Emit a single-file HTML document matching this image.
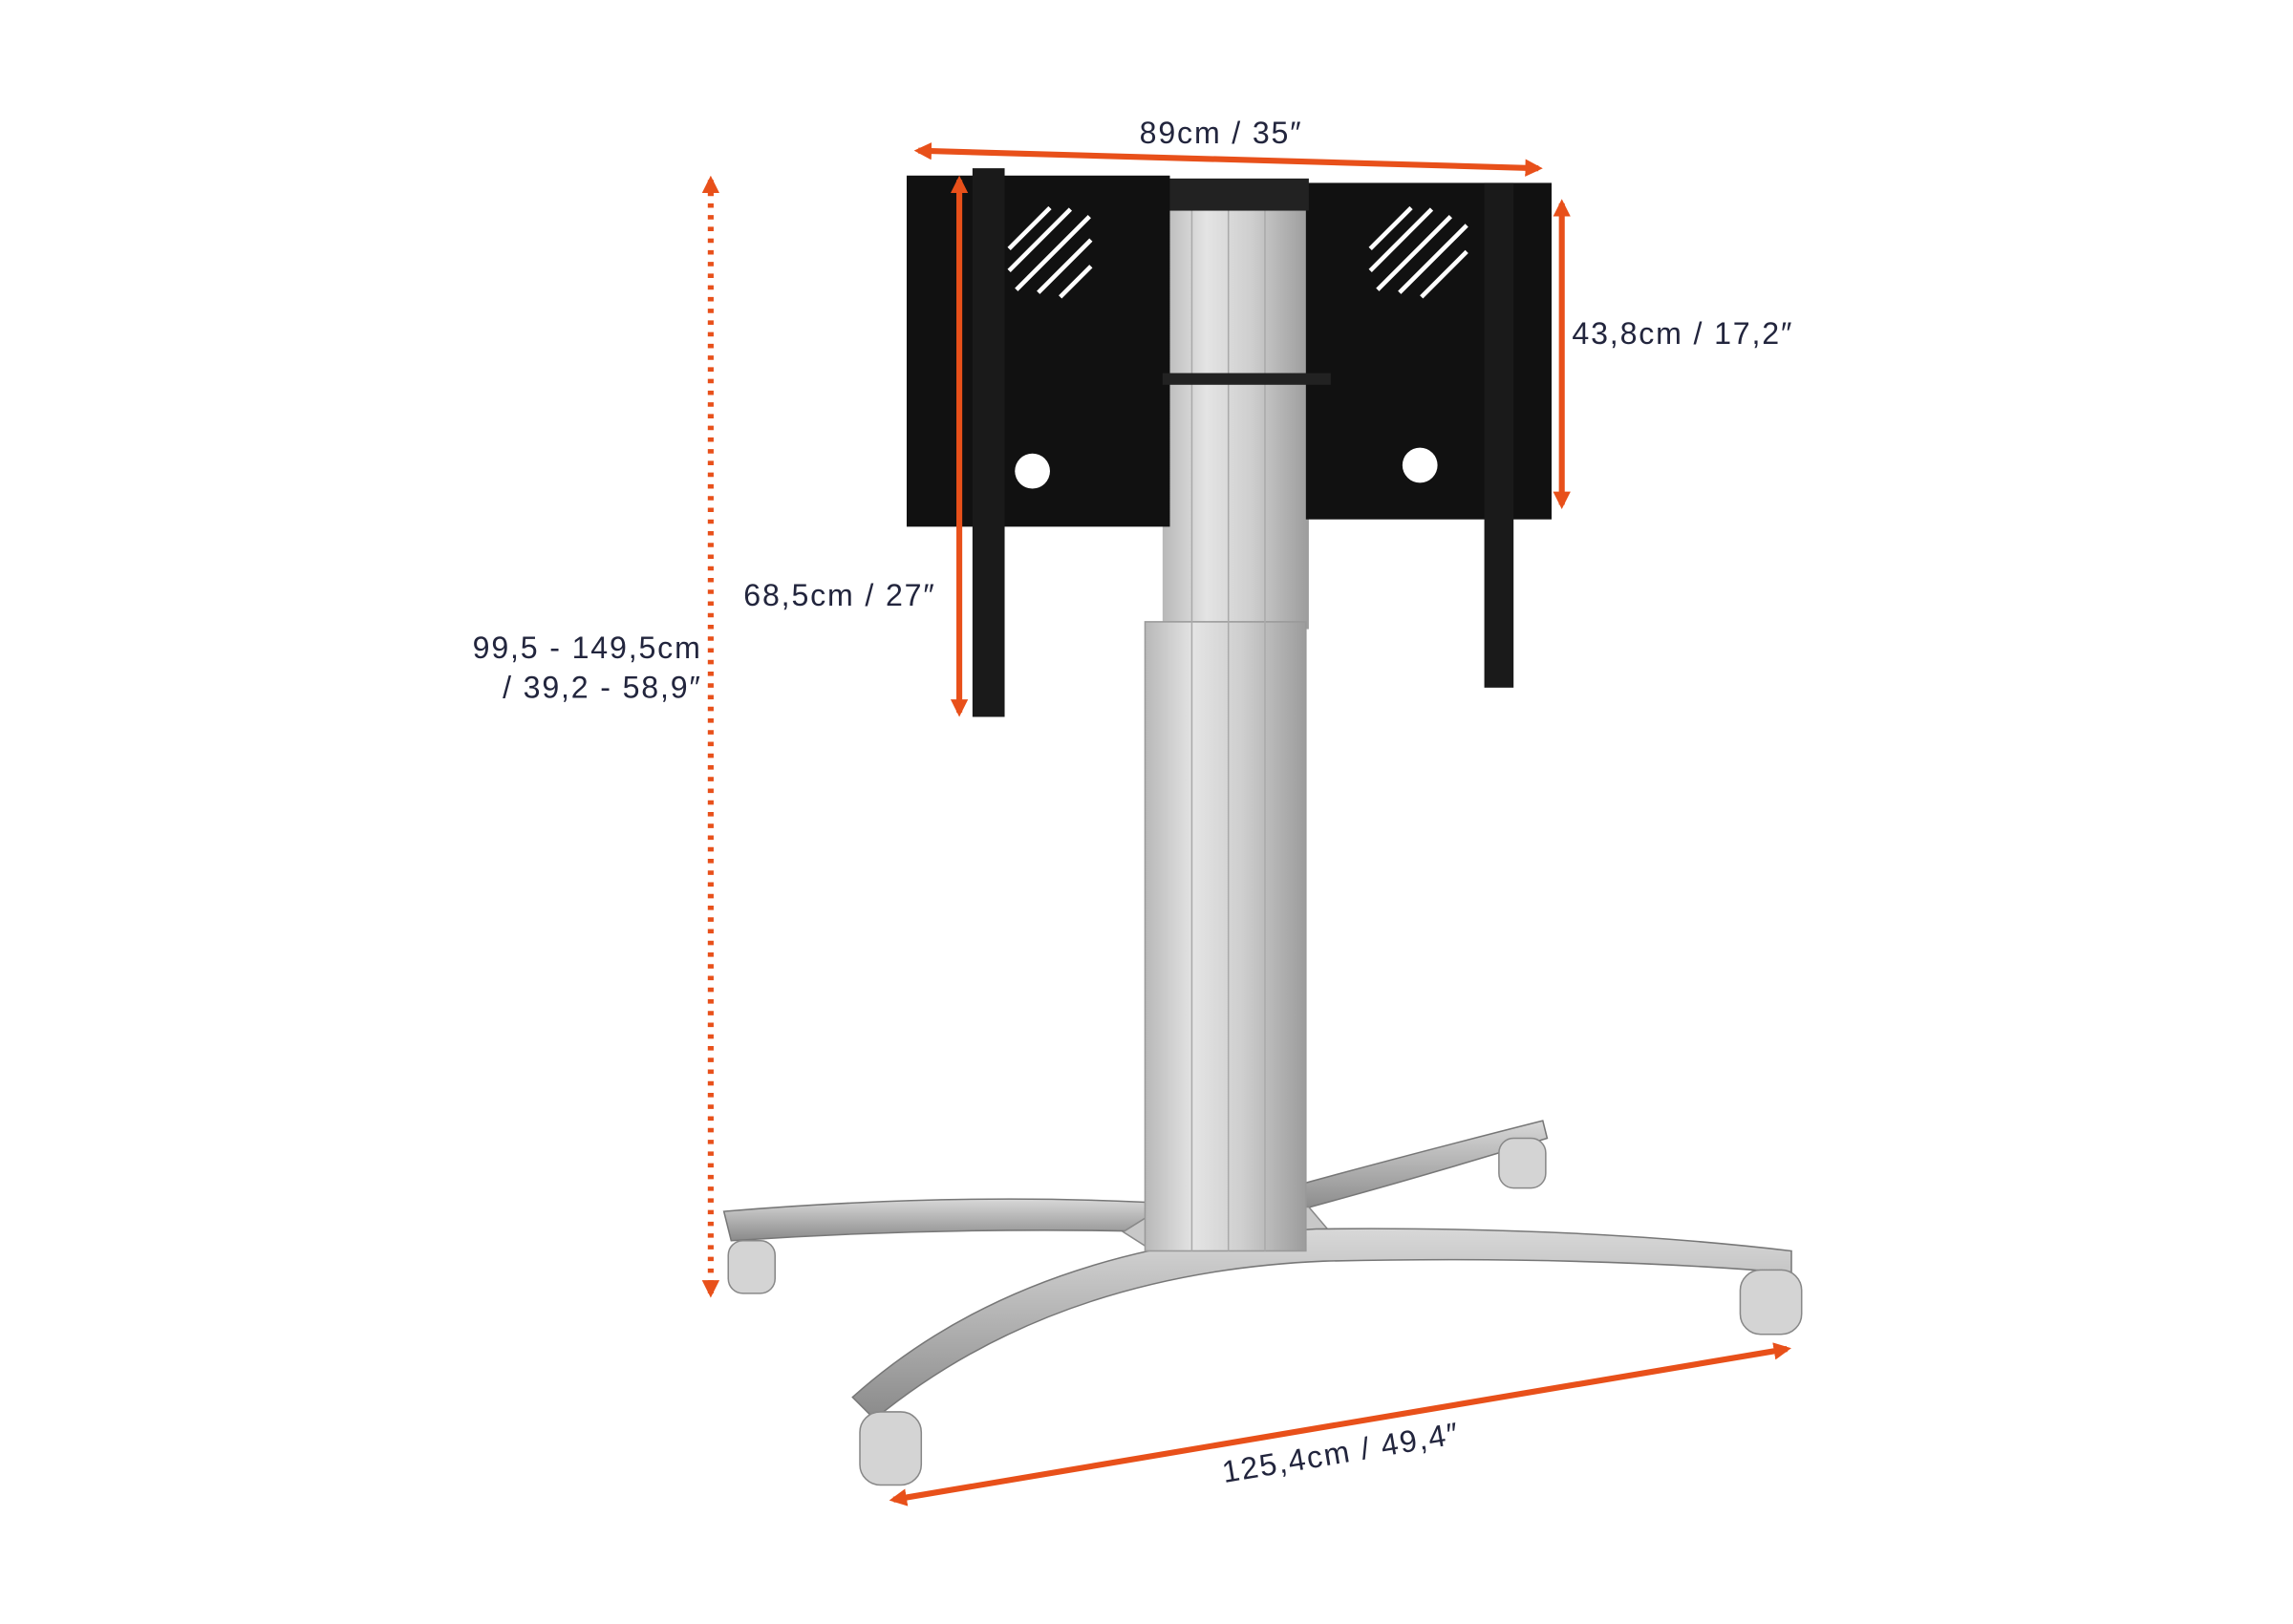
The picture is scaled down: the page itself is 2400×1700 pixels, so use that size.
<!DOCTYPE html>
<html><head><meta charset="utf-8"><style>
html,body{margin:0;padding:0;background:#fff;width:2400px;height:1700px;overflow:hidden}
svg{display:block}
text{font-family:"Liberation Sans",sans-serif;fill:#22253d;font-size:21px;letter-spacing:1.2px}
</style></head><body>
<svg width="2400" height="1700" viewBox="0 0 1568 1110" preserveAspectRatio="none" xmlns="http://www.w3.org/2000/svg">
<defs>
<linearGradient id="col" x1="0" x2="1">
<stop offset="0" stop-color="#b8b8b8"/><stop offset="0.3" stop-color="#e4e4e4"/><stop offset="0.6" stop-color="#cfcfcf"/><stop offset="1" stop-color="#9c9c9c"/>
</linearGradient>
<linearGradient id="bar" x1="0" y1="0" x2="0" y2="1">
<stop offset="0" stop-color="#d8d8d8"/><stop offset="1" stop-color="#8a8a8a"/>
</linearGradient>
<marker id="ah" markerWidth="12" markerHeight="12" refX="9" refY="6" orient="auto" markerUnits="userSpaceOnUse">
<path d="M0,0 L12,6 L0,12 z" fill="#e8501a"/></marker>
<marker id="at" markerWidth="12" markerHeight="12" refX="3" refY="6" orient="auto" markerUnits="userSpaceOnUse">
<path d="M12,0 L0,6 L12,12 z" fill="#e8501a"/></marker>
</defs>

<!-- base -->
<path d="M495,828 Q650,815 790,822 L800,842 Q650,838 500,848 Z" fill="url(#bar)" stroke="#777" stroke-width="1"/>
<path d="M880,812 Q960,790 1055,766 L1058,778 Q970,805 885,828 Z" fill="url(#bar)" stroke="#777"/>
<path d="M768,842 L800,822 L895,825 L912,845 L860,858 L790,856 Z" fill="#c8c8c8" stroke="#888"/>
<path d="M583,955 Q700,850 900,840 Q1080,838 1225,855 L1225,870 Q1080,858 905,862 Q720,870 598,970 Z" fill="url(#bar)" stroke="#777"/>
<g fill="#d4d4d4" stroke="#888">
<rect x="498" y="848" width="32" height="36" rx="10"/>
<rect x="1025" y="778" width="32" height="34" rx="10"/>
<rect x="1190" y="868" width="42" height="44" rx="14"/>
<rect x="588" y="965" width="42" height="50" rx="14"/>
</g>
<!-- column -->
<rect x="795" y="140" width="100" height="290" fill="url(#col)"/>
<rect x="783" y="425" width="110" height="430" fill="url(#col)" stroke="#999"/>
<g stroke="#aaa" stroke-width="1"><line x1="815" y1="140" x2="815" y2="855"/><line x1="840" y1="140" x2="840" y2="855"/><line x1="865" y1="140" x2="865" y2="855"/></g>
<!-- display mount -->
<rect x="620" y="120" width="180" height="240" fill="#111"/>
<rect x="893" y="125" width="168" height="230" fill="#111"/>
<rect x="800" y="122" width="95" height="22" fill="#222"/>
<rect x="795" y="255" width="115" height="8" fill="#222"/>
<rect x="665" y="115" width="22" height="375" fill="#1a1a1a"/>
<rect x="1015" y="125" width="20" height="345" fill="#1a1a1a"/>
<g stroke="#fff" stroke-width="3">
<line x1="690" y1="170" x2="718" y2="142"/><line x1="690" y1="185" x2="732" y2="143"/><line x1="695" y1="198" x2="745" y2="148"/><line x1="710" y1="200" x2="746" y2="164"/><line x1="725" y1="203" x2="746" y2="182"/>
<line x1="937" y1="170" x2="965" y2="142"/><line x1="937" y1="185" x2="979" y2="143"/><line x1="942" y1="198" x2="992" y2="148"/><line x1="957" y1="200" x2="1003" y2="154"/><line x1="972" y1="203" x2="1003" y2="172"/>
</g>
<circle cx="706" cy="322" r="12" fill="#fff"/>
<circle cx="971" cy="318" r="12" fill="#fff"/>

<!-- dimension arrows -->
<g stroke="#e8501a" stroke-width="4" fill="none">
<line x1="628" y1="103" x2="1052" y2="115" marker-end="url(#ah)" marker-start="url(#at)"/>
<line x1="1068" y1="139" x2="1068" y2="345" marker-end="url(#ah)" marker-start="url(#at)"/>
<line x1="656" y1="123" x2="656" y2="487" marker-end="url(#ah)" marker-start="url(#at)"/>
<line x1="486" y1="123" x2="486" y2="884" stroke-dasharray="3,5" marker-end="url(#ah)" marker-start="url(#at)"/>
<line x1="611" y1="1025" x2="1222" y2="922" marker-end="url(#ah)" marker-start="url(#at)"/>
</g>

<text x="835" y="98" text-anchor="middle">89cm / 35″</text>
<text x="1075" y="235">43,8cm / 17,2″</text>
<text x="640" y="414" text-anchor="end">68,5cm / 27″</text>
<text x="480" y="450" text-anchor="end">99,5 - 149,5cm</text>
<text x="480" y="477" text-anchor="end">/ 39,2 - 58,9″</text>
<text x="917" y="1000" text-anchor="middle" transform="rotate(-9.5 917 993)">125,4cm / 49,4″</text>
</svg>
</body></html>
